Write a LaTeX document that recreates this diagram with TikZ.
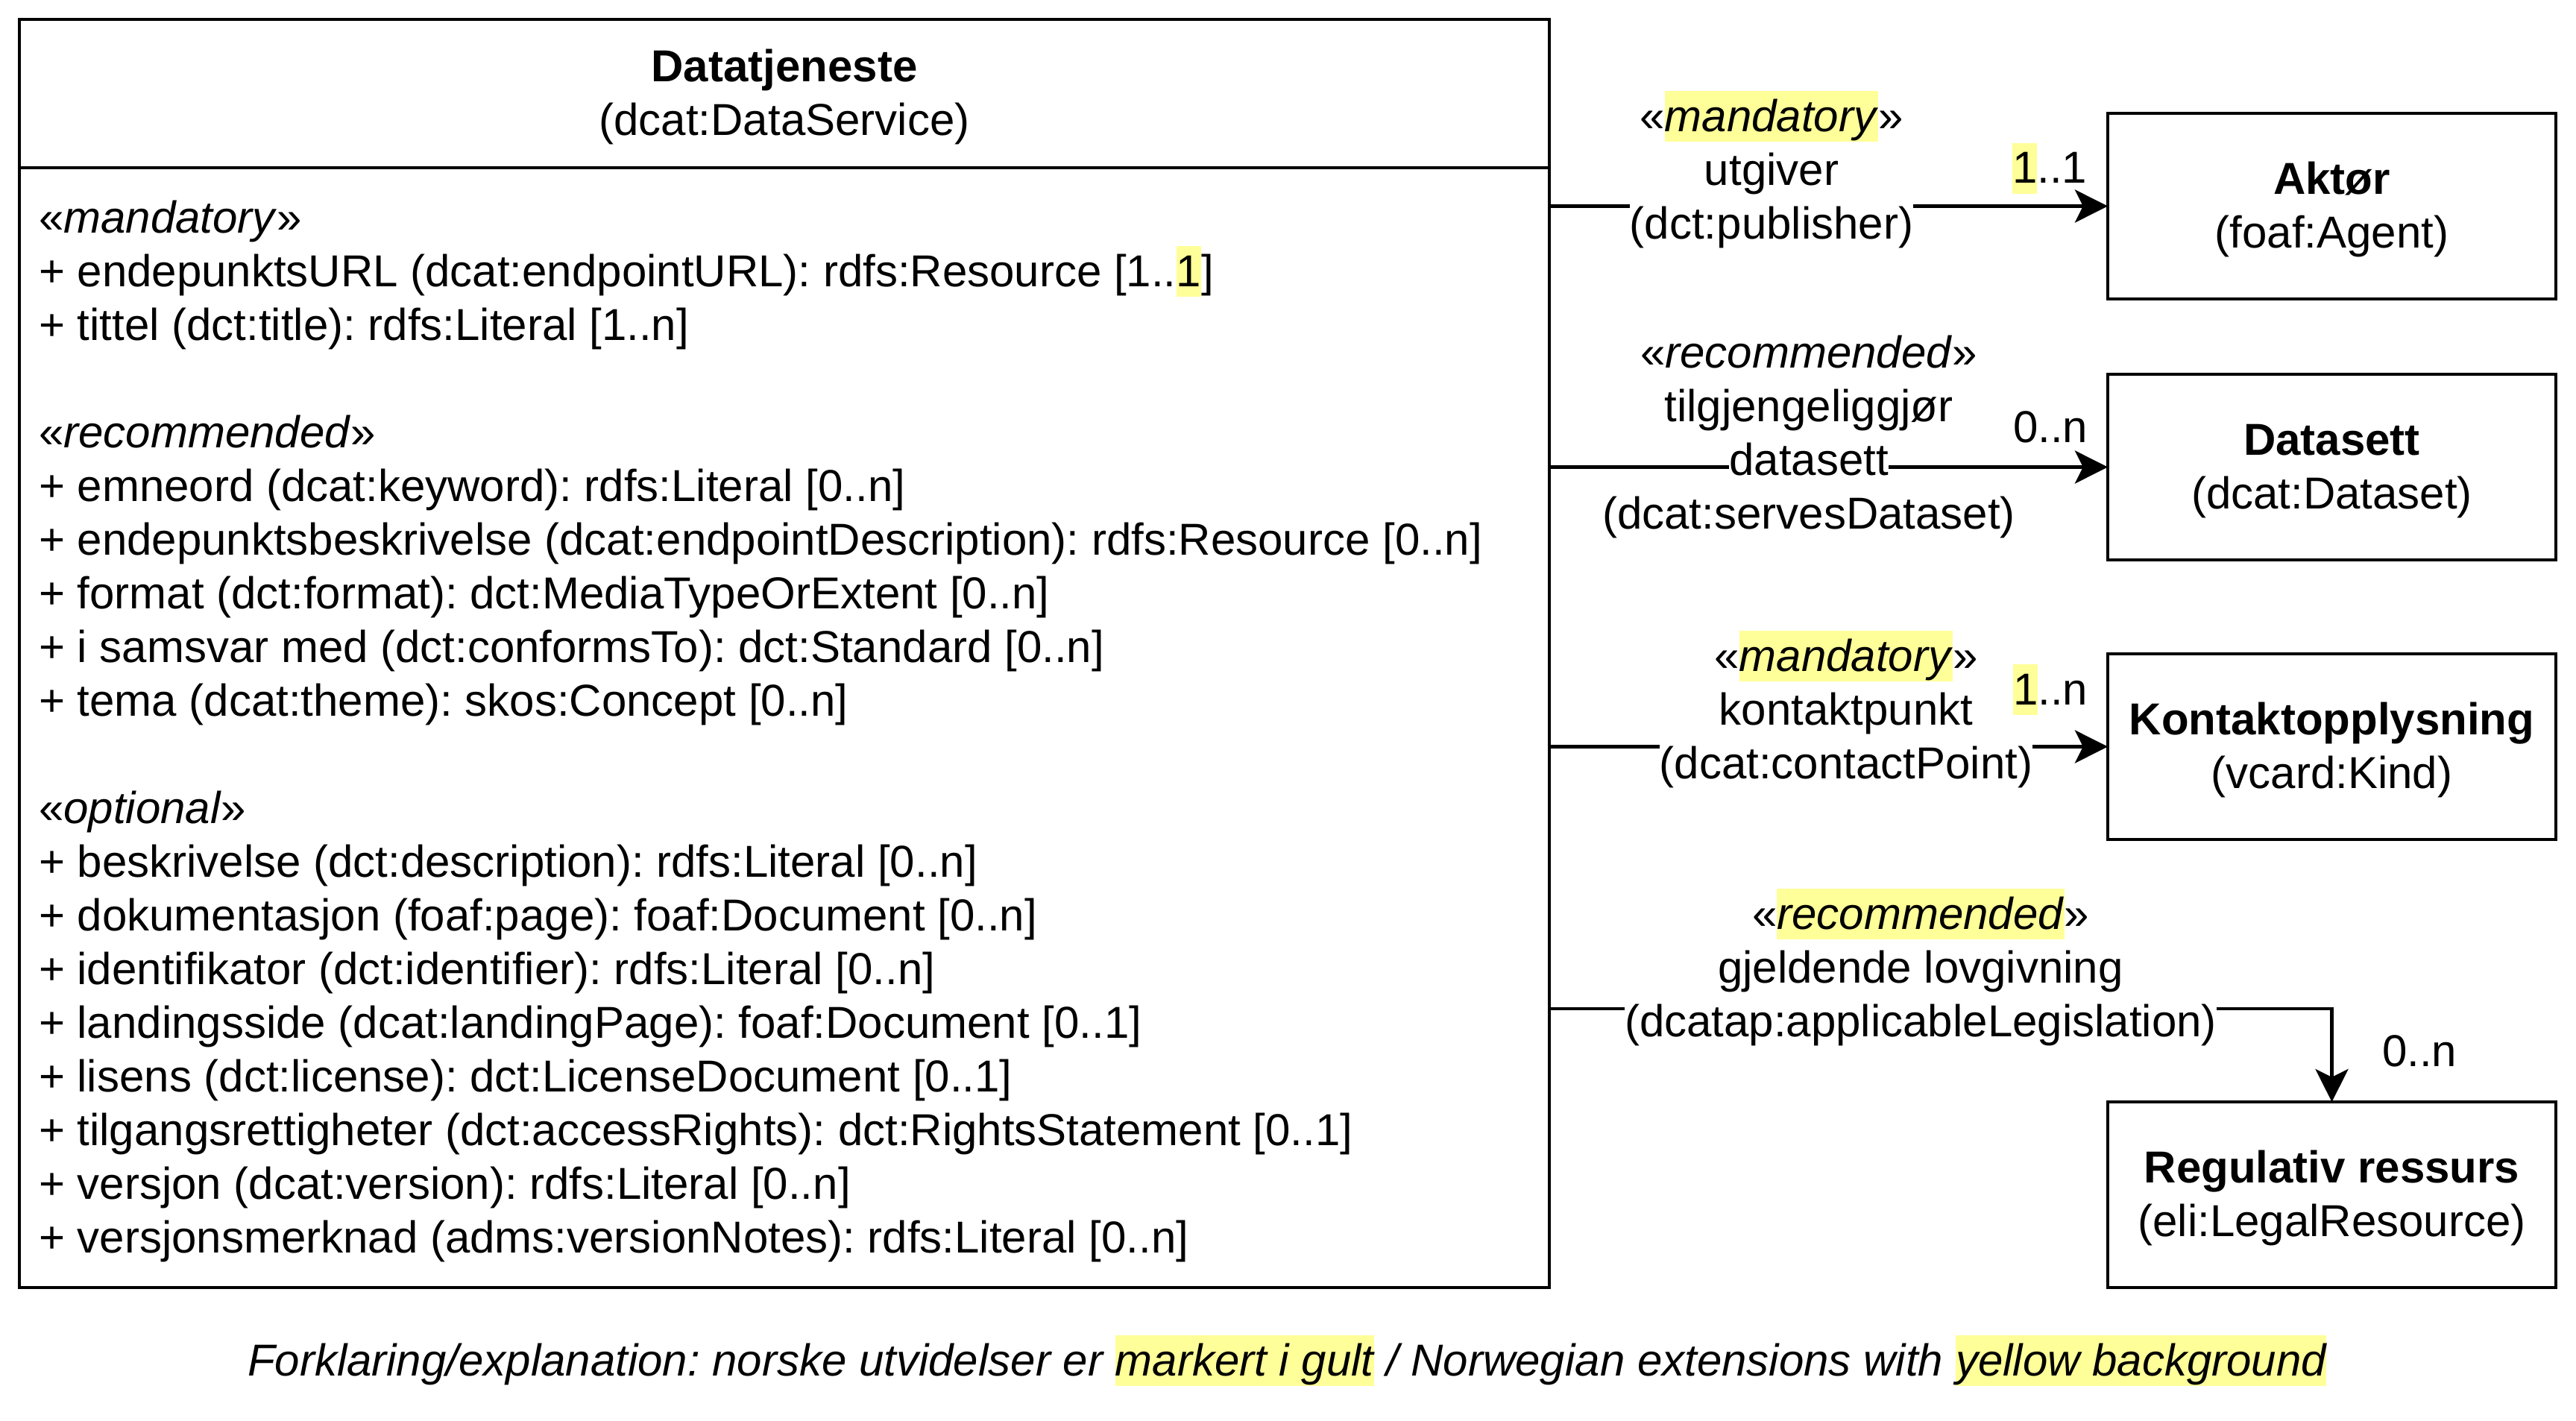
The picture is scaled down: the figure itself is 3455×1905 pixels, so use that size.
\documentclass[tikz,border=0pt]{standalone}
\usepackage{fontspec}
\setmainfont{Liberation Sans}
\usetikzlibrary{arrows.meta}
\definecolor{hlyellow}{HTML}{FFFF99}
\newcommand{\lnstrut}{\rule[-3.4pt]{0pt}{17pt}}
\newcommand{\hlt}[1]{{\setlength{\fboxsep}{0pt}\colorbox{hlyellow}{\lnstrut#1}}}
\newcommand{\wbg}[1]{{\setlength{\fboxsep}{0pt}\colorbox{white}{\lnstrut#1}}}
\frenchspacing
\begin{document}
\begin{tikzpicture}[x=0.25pt,y=-0.25pt,
  every node/.style={font=\fontsize{15}{18}\selectfont\frenchspacing, inner sep=0pt, outer sep=0pt},
  classbox/.style={draw, line width=1.15pt, minimum width=150.25pt, minimum height=62.25pt, align=center},
  arr/.style={line width=1.15pt, -{Stealth[length=11pt,width=11pt,inset=2.7pt]}},
  elabel/.style={align=center, anchor=north},
  mult/.style={anchor=base}]
\useasboundingbox (0,0) rectangle (3455,1905);

% main class
\node[draw, line width=1.15pt, minimum width=513pt, minimum height=425.25pt] (ds) at (1052,876.5) {};
\coordinate (divy) at (0,225);
\draw[line width=1.15pt] (ds.west |- divy) -- (ds.east |- divy);
\node[align=center] (dshead) at (1052,125.5) {\lnstrut\textbf{Datatjeneste}\\\lnstrut(dcat:DataService)};
\node[align=left, anchor=north west] (dsattr) at (52,257.6) {\lnstrut«\textit{mandatory}»\\
+ endepunktsURL (dcat:endpointURL): rdfs:Resource [1..\hlt{1}]\\
+ tittel (dct:title): rdfs:Literal [1..n]\\[18pt]
«\textit{recommended}»\\
+ emneord (dcat:keyword): rdfs:Literal [0..n]\\
+ endepunktsbeskrivelse (dcat:endpointDescription): rdfs:Resource [0..n]\\
+ format (dct:format): dct:MediaTypeOrExtent [0..n]\\
+ i samsvar med (dct:conformsTo): dct:Standard [0..n]\\
+ tema (dcat:theme): skos:Concept [0..n]\\[18pt]
«\textit{optional}»\\
+ beskrivelse (dct:description): rdfs:Literal [0..n]\\
+ dokumentasjon (foaf:page): foaf:Document [0..n]\\
+ identifikator (dct:identifier): rdfs:Literal [0..n]\\
+ landingsside (dcat:landingPage): foaf:Document [0..1]\\
+ lisens (dct:license): dct:LicenseDocument [0..1]\\
+ tilgangsrettigheter (dct:accessRights): dct:RightsStatement [0..1]\\
+ versjon (dcat:version): rdfs:Literal [0..n]\\
+ versjonsmerknad (adms:versionNotes): rdfs:Literal [0..n]};

% related classes
\node[classbox] (akt) at (3127.5,276.5) {\lnstrut\textbf{Aktør}\\\lnstrut(foaf:Agent)};
\node[classbox] (dset) at (3127.5,626.5) {\lnstrut\textbf{Datasett}\\\lnstrut(dcat:Dataset)};
\node[classbox] (kon) at (3127.5,1001.5) {\lnstrut\textbf{Kontaktopplysning}\\\lnstrut(vcard:Kind)};
\node[classbox] (reg) at (3127.5,1602.5) {\lnstrut\textbf{Regulativ ressurs}\\\lnstrut(eli:LegalResource)};

% connectors
\draw[arr] (akt.west -| ds.east) -- (akt.west);
\draw[arr] (dset.west -| ds.east) -- (dset.west);
\draw[arr] (kon.west -| ds.east) -- (kon.west);
\coordinate (legy) at (0,1353);
\draw[arr] (ds.east |- legy) -| (reg.north);

% connector labels
\node[elabel] (l1) at (2376,122) {\wbg{«\hlt{\textit{mandatory}}»}\\\wbg{utgiver}\\\wbg{(dct:publisher)}};
\node[elabel] (l2) at (2426,439) {\wbg{«\textit{recommended}»}\\\wbg{tilgjengeliggjør}\\\wbg{datasett}\\\wbg{(dcat:servesDataset)}};
\node[elabel] (l3) at (2476,846) {\wbg{«\hlt{\textit{mandatory}}»}\\\wbg{kontaktpunkt}\\\wbg{(dcat:contactPoint)}};
\node[elabel] (l4) at (2576,1192) {\wbg{«\hlt{\textit{recommended}}»}\\\wbg{gjeldende lovgivning}\\\wbg{(dcatap:applicableLegislation)}};

% multiplicities
\node[mult] (m1) at (2749,246) {\hlt{1}..1};
\node[mult] (m2) at (2750,593) {0..n};
\node[mult] (m3) at (2750,945) {\hlt{1}..n};
\node[mult] (m4) at (3245,1430) {0..n};

% caption
\node[anchor=base] (cap) at (1726,1845) {\textit{Forklaring/explanation: norske utvidelser er \hlt{markert i gult} / Norwegian extensions with \hlt{yellow background}}};
\end{tikzpicture}
\end{document}
